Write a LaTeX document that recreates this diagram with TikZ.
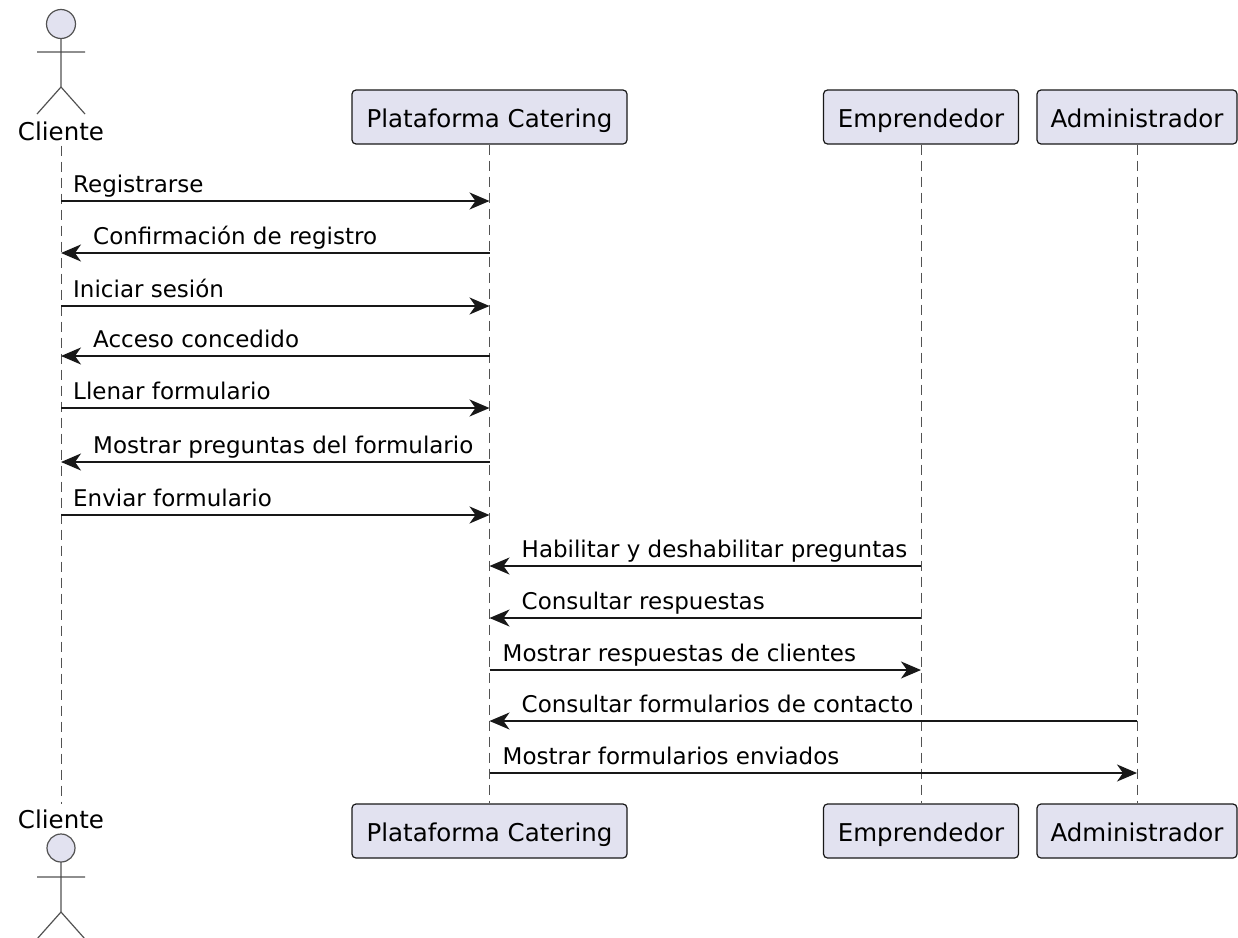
\documentclass[tikz,border=0pt]{standalone}
\usepackage{fontspec}
\setmainfont{DejaVu Sans}
\usetikzlibrary{arrows.meta}
\definecolor{partfill}{HTML}{E2E2F0}
\definecolor{partline}{HTML}{181818}

\begin{document}
\begin{tikzpicture}[x=1pt,y=-1pt,
  part/.style={draw=partline,fill=partfill,line width=1.2pt,rounded corners=4pt,
    minimum height=54pt,inner sep=0pt,text height=20pt,text depth=0pt,
    font=\fontsize{24.5}{29}\selectfont},
  who/.style={anchor=base,inner sep=5pt,font=\fontsize{24.5}{29}\selectfont},
  life/.style={draw=partline!75,line width=1pt,dash pattern=on 10pt off 6pt},
  stick/.style={draw=partline!75,line width=1.2pt},
  msg/.style={draw=partline,line width=1.7pt,-{Stealth[length=20pt,width=17pt,inset=6pt]}},
  txt/.style={anchor=base west,inner sep=0pt,font=\fontsize{23}{28}\selectfont}]
\useasboundingbox (0,0) rectangle (1238,937);

% participants, top and bottom
\node[who] (cliT) at (61,140) {Cliente};
\node[part,minimum width=275pt] (platT) at (489.5,117) {Plataforma Catering};
\node[part,minimum width=195pt] (empT) at (921,117) {Emprendedor};
\node[part,minimum width=200pt] (admT) at (1137,117) {Administrador};

\node[who] (cliB) at (61,828) {Cliente};
\node[part,minimum width=275pt] (platB) at (489.5,831) {Plataforma Catering};
\node[part,minimum width=195pt] (empB) at (921,831) {Emprendedor};
\node[part,minimum width=200pt] (admB) at (1137,831) {Administrador};

% stick figures
\draw[stick,fill=partfill] (61,24) circle (14.5);
\draw[stick] (61,38.5) -- (61,87) (37,52) -- (85,52) (37,114) -- (61,87) -- (85,114);
\draw[stick,fill=partfill] (61,848) circle (14);
\draw[stick] (61,862) -- (61,912) (37,877) -- (85,877) (37,939) -- (61,912) -- (85,939);

% lifelines
\draw[life] (cliT.south) -- (cliB.north);
\draw[life] (platT.south) -- (platB.north);
\draw[life] (empT.south) -- (empB.north);
\draw[life] (admT.south) -- (admB.north);

% messages
\foreach \y/\a/\b/\l/\d/\t in {
  201/cliT/platT/cliT/12/Registrarse,
  253/platT/cliT/cliT/32/Confirmación de registro,
  306/cliT/platT/cliT/12/Iniciar sesión,
  356/platT/cliT/cliT/32/Acceso concedido,
  408/cliT/platT/cliT/12/Llenar formulario,
  462/platT/cliT/cliT/32/Mostrar preguntas del formulario,
  515/cliT/platT/cliT/12/Enviar formulario,
  566/empT/platT/platT/32/Habilitar y deshabilitar preguntas,
  618/empT/platT/platT/32/Consultar respuestas,
  670/platT/empT/platT/13/Mostrar respuestas de clientes,
  721/admT/platT/platT/32/Consultar formularios de contacto,
  773/platT/admT/platT/13/Mostrar formularios enviados}
{
  \draw[msg] (\a |- 0,\y) -- (\b |- 0,\y);
  \node[txt] (m\y) at ([xshift=\d pt,yshift=9pt]\l |- 0,\y) {\t};
}
\end{tikzpicture}
\end{document}
